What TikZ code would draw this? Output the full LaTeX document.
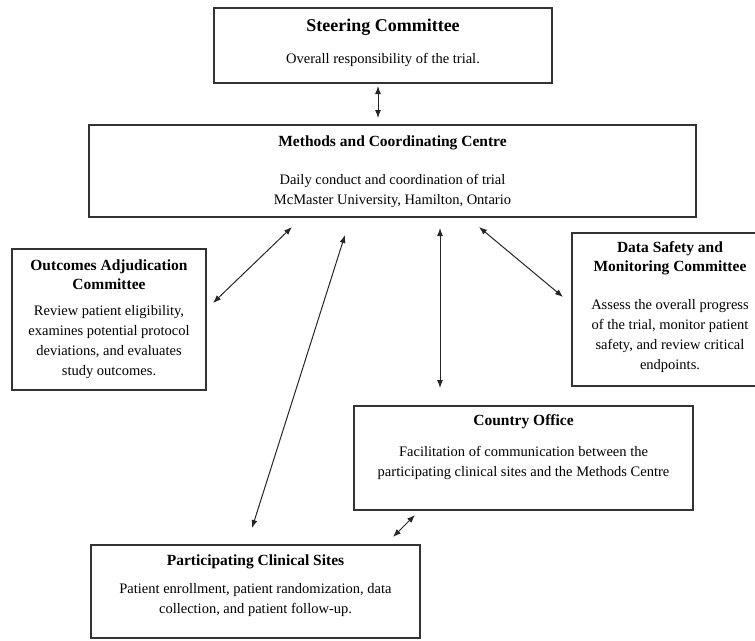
\documentclass[tikz,border=0pt]{standalone}
\usepackage{fontspec}
\setmainfont{Liberation Serif}
\usetikzlibrary{arrows.meta}
\begin{document}
\begin{tikzpicture}[x=1pt,y=-1pt,
  box/.style={draw=black!80, line width=1.1pt, inner sep=0pt},
  bigttl/.style={font=\fontsize{18}{21}\selectfont\bfseries, align=center, inner sep=0pt},
  ttl/.style={font=\fontsize{15.5}{19}\selectfont\bfseries, align=center, inner sep=0pt},
  bodytxt/.style={font=\fontsize{14.5}{20}\selectfont, align=center, inner sep=0pt},
  link/.style={line width=1pt, draw=black!85, {Latex[length=8pt,width=6pt]}-{Latex[length=8pt,width=6pt]}}]
\useasboundingbox (0,0) rectangle (755,640);
\clip (0,0) rectangle (755,640);

% boxes
\node[box, minimum width=338pt, minimum height=75pt] (steer) at (383,45.5) {};
\node[box, minimum width=607pt, minimum height=92pt] (methods) at (392.5,171) {};
\node[box, minimum width=194pt, minimum height=141pt] (outcomes) at (109,319.5) {};
\node[box, minimum width=196pt, minimum height=153pt] (dsmc) at (670,309.5) {};
\node[box, minimum width=339pt, minimum height=104pt] (country) at (523.5,458) {};
\node[box, minimum width=329pt, minimum height=93pt] (sites) at (255.5,591.5) {};

% texts
\node[bigttl] (steerT) at (383,27) {Steering Committee};
\node[bodytxt] (steerB) at (383,60) {Overall responsibility of the trial.};

\node[ttl] (methodsT) at (392.5,143) {Methods and Coordinating Centre};
\node[bodytxt] (methodsB) at (392.5,191) {Daily conduct and coordination of trial\\McMaster University, Hamilton, Ontario};

\node[ttl] (outcomesT) at (109,274.5) {Outcomes Adjudication\\Committee};
\node[bodytxt] (outcomesB) at (109,342) {Review patient eligibility,\\examines potential protocol\\deviations, and evaluates\\study outcomes.};

\node[ttl] (dsmcT) at (670,258.5) {Data Safety and\\Monitoring Committee};
\node[bodytxt] (dsmcB) at (670,336) {Assess the overall progress\\of the trial, monitor patient\\safety, and review critical\\endpoints.};

\node[ttl] (countryT) at (523.5,422) {Country Office};
\node[bodytxt] (countryB) at (523.5,462.5) {Facilitation of communication between the\\participating clinical sites and the Methods Centre};

\node[ttl] (sitesT) at (255.5,562) {Participating Clinical Sites};
\node[bodytxt] (sitesB) at (255.5,600) {Patient enrollment, patient randomization, data\\collection, and patient follow-up.};

% connector end points
\coordinate (sA) at (378,86);   \coordinate (mA) at (378,118);
\coordinate (oB) at (213,303);  \coordinate (mB) at (292,227);
\coordinate (pC) at (252,528);  \coordinate (mC) at (345,235);
\coordinate (cD) at (440,388);  \coordinate (mD) at (440,228);
\coordinate (dE) at (563,297);  \coordinate (mE) at (479,227);
\coordinate (pF) at (393,537);  \coordinate (cF) at (415,515);

\draw[link] (sA) -- (mA);
\draw[link] (oB) -- (mB);
\draw[link] (pC) -- (mC);
\draw[link] (cD) -- (mD);
\draw[link] (dE) -- (mE);
\draw[link] (pF) -- (cF);
\end{tikzpicture}
\end{document}
